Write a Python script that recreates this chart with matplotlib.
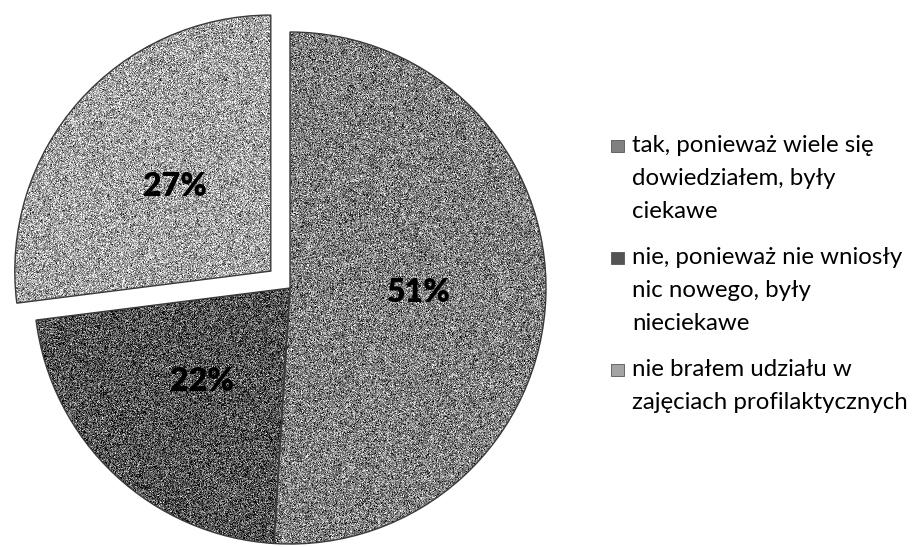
import numpy as np
import matplotlib.pyplot as plt
import matplotlib.patches as mpatches

plt.rcParams['font.family'] = ['Lato', 'DejaVu Sans']

# udzial odpowiedzi w procentach
values = [51, 22, 27]
labels = [
    "tak, ponieważ wiele się\ndowiedziałem, były\nciekawe",
    "nie, ponieważ nie wniosły\nnic nowego, były\nnieciekawe",
    "nie brałem udziału w\nzajęciach profilaktycznych",
]
grays = [128, 84, 164]
explode = [0, 0, 0.1]

W, H = 916, 547
R = 256

fig = plt.figure(figsize=(W / 100, H / 100), dpi=100)
ax = fig.add_axes([0, 0, 1, 1])

# pie przesuwa wycinek o wartosc explode w jednostkach danych
wedges, texts, autotexts = ax.pie(
    values,
    explode=[e * R for e in explode],
    startangle=90,
    counterclock=False,
    radius=R,
    center=(290, H - 288),
    colors=[(g / 255,) * 3 for g in grays],
    autopct=lambda p: f"{p:.0f}%",
    pctdistance=0.5,
    textprops=dict(fontsize=23, fontweight="heavy", color="black"),
)

# ziarnista faktura wycinkow
rng = np.random.default_rng(7)
for w, g in zip(wedges, grays):
    tex = np.clip(g + rng.normal(0, 52, (H, W)), 0, 255) / 255
    im = ax.imshow(tex, cmap="gray", vmin=0, vmax=1, extent=(0, W, 0, H),
                   origin="lower", interpolation="nearest", zorder=1)
    im.set_clip_path(w)
    w.set_facecolor("none")
    w.set_edgecolor("#3a3a3a")
    w.set_linewidth(1.0)
    w.set_zorder(2)
for t in autotexts:
    t.set_zorder(3)

# legenda
for i, (lab, g) in enumerate(zip(labels, grays)):
    base = 152 + 112 * i
    ax.add_patch(mpatches.Rectangle((611, H - base), 13, 12,
                                    facecolor=(g / 255,) * 3, edgecolor="#555555",
                                    linewidth=0.6, zorder=3))
    for j, line in enumerate(lab.split("\n")):
        ax.text(632, H - (base + 33 * j), line, fontsize=17.3, va="baseline",
                ha="left", color="black")

ax.set_xlim(0, W)
ax.set_ylim(0, H)
ax.set_aspect("auto")
ax.axis("off")

fig.savefig("out.png", dpi=100)
